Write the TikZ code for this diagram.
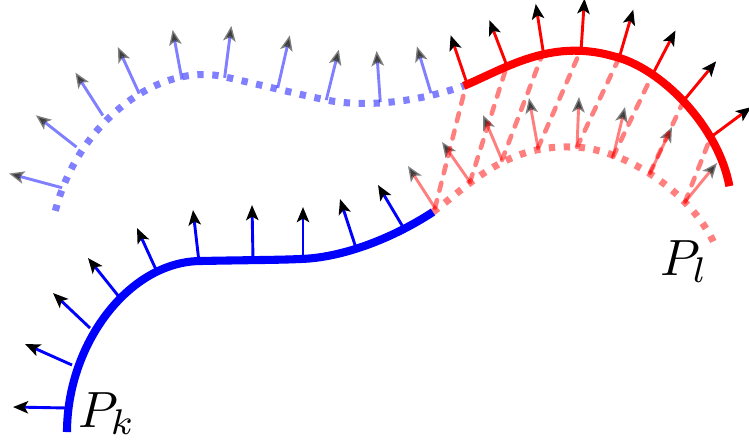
\documentclass[tikz,border=0pt]{standalone}
\usetikzlibrary{arrows.meta}
\newcommand\drawconfig[5]{%
  % #1 blue curve style, #2 blue normal style, #3 red curve style, #4 red normal style, #5 name suffix
  \draw[blue,#1] (67,432) .. controls (67,345) and (128,262) .. (200,261)
     .. controls (250,260) and (280,260) .. (300,259)
     .. controls (340,258) and (390,240) .. (433,212);
  \draw[red,#3] (433,212) .. controls (468,186) and (505,145) .. (570,147)
     .. controls (620,146) and (690,190) .. (715,245);
  \foreach \bx/\by/\tx/\ty [count=\i] in {68/408/13/407, 72/365/25/344, 90/328/53/293,
      120/298/88/258, 158/274/137/228, 199/262/193/210, 253/259/252/205,
      303/259/303/207, 356/248/340/199, 403/227/378/185}{
    \coordinate (b\i#5) at (\bx,\by);
    \coordinate (bt\i#5) at (\tx,\ty);
    \draw[blue,#2] (b\i#5) -- (bt\i#5);
  }
  \foreach \bx/\by/\tx/\ty [count=\i] in {435/208/408/166, 470/182/442/142, 502/160/483/115,
      538/148/529/98, 577/147/579/97, 613/157/625/107, 650/173/672/127, 685/202/717/163}{
    \coordinate (r\i#5) at (\bx,\by);
    \coordinate (rt\i#5) at (\tx,\ty);
    \draw[red,#4] (r\i#5) -- (rt\i#5);
  }
}
\begin{document}
\begin{tikzpicture}[x=0.02cm,y=-0.02cm,
  curvesolid/.style={line width=4.6pt},
  curveghost/.style={line width=4pt, dash pattern=on 3.6pt off 4.9pt, opacity=0.5},
  normal/.style={line width=1.65pt, -{Stealth[length=8.6pt,width=7pt,inset=2pt,color=black]}},
  normalghost/.style={normal, opacity=0.5},
  corr/.style={red, opacity=0.5, line width=2.6pt, line cap=round, dash pattern=on 4.6pt off 5.6pt},
  lbl/.style={anchor=base west, inner sep=0pt, scale=2.9}
]
\useasboundingbox (0,0) rectangle (749,441);
% configuration A: P_k in place, P_l ghost
\begin{scope}
  \drawconfig{curvesolid}{normal}{curveghost}{normalghost}{A}
\end{scope}
% configuration B: rigidly moved copy, P_k ghost, P_l in place
\begin{scope}[shift={(1.898cm,4.492cm)}, rotate=-14]
  \drawconfig{curveghost}{normalghost}{curvesolid}{normal}{B}
\end{scope}
% correspondences
\foreach \i in {1,...,8}{
  \draw[corr] (r\i A) -- (r\i B);
}
\node[lbl] (Pk) at (77,427) {$P_k$};
\node[lbl] (Pl) at (659,275) {$P_l$};
\end{tikzpicture}
\end{document}
